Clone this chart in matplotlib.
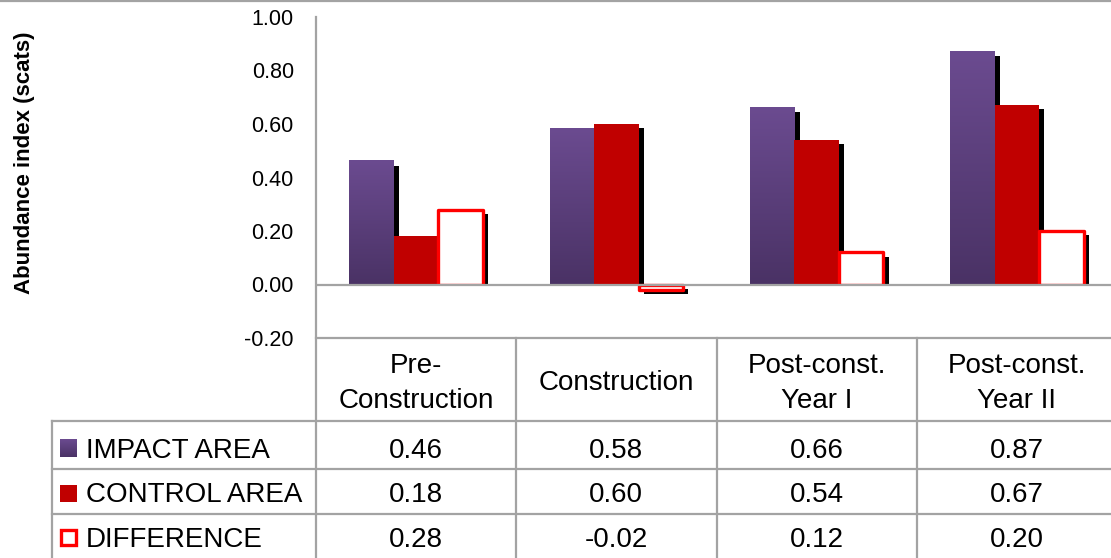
import numpy as np
import matplotlib
matplotlib.use("Agg")
import matplotlib.pyplot as plt
import matplotlib.patheffects as pe
import matplotlib.transforms as mtransforms
from matplotlib.patches import Rectangle
from matplotlib.lines import Line2D
from matplotlib.colors import LinearSegmentedColormap

# ---- data ----
categories = ["Pre-\nConstruction", "Construction", "Post-const.\nYear I", "Post-const.\nYear II"]
series_names = ["IMPACT AREA", "CONTROL AREA", "DIFFERENCE"]
impact = [0.46, 0.58, 0.66, 0.87]
control = [0.18, 0.60, 0.54, 0.67]
difference = [0.28, -0.02, 0.12, 0.20]
y_ticks = [-0.20, 0.00, 0.20, 0.40, 0.60, 0.80, 1.00]
y_label = "Abundance index (scats)"

# ---- styling ----
W, H, DPI = 1111, 558, 100
plt.rcParams['font.family'] = ['Liberation Sans', 'DejaVu Sans']
GRID = '#A3A3A3'
PURPLE_TOP = '#6B4B90'
PURPLE_BOT = '#4A3265'
RED = '#C00000'
OUTLINE = '#FF0000'
purple_cmap = LinearSegmentedColormap.from_list('impact', [PURPLE_BOT, PURPLE_TOP])
TABLE_FS = 20
TICK_FS = 15.5

fig = plt.figure(figsize=(W / DPI, H / DPI), dpi=DPI)


def fx(px):
    return px / W


def fy(py):
    return 1 - py / H


# plot area in pixel units (top-left origin)
ax_left, ax_right = 316, 1117
ax_top, ax_bot = 17, 338
ax = fig.add_axes([fx(ax_left), fy(ax_bot), (ax_right - ax_left) / W, (ax_bot - ax_top) / H])

x = np.arange(len(categories))
w = 1 / 4.5
shadow = [pe.SimplePatchShadow(offset=(3.8, -3.0), shadow_rgbFace='black', alpha=1.0), pe.Normal()]
above_zero = Rectangle((-0.5, 0), 4, 2, transform=ax.transData)

b_imp = ax.bar(x - w, impact, w, color=PURPLE_BOT, zorder=2, path_effects=shadow)
b_ctl = ax.bar(x, control, w, color=RED, zorder=3, path_effects=shadow)
b_dif = ax.bar(x + w, difference, w, facecolor='white', edgecolor=OUTLINE,
               linewidth=2.4, zorder=4, path_effects=shadow, joinstyle='round')
for bars in (b_imp, b_ctl, b_dif):
    for p in bars:
        if p.get_height() >= 0:
            p.set_clip_path(above_zero)

# vertical gradient fill on the impact bars
grad = np.linspace(0, 1, 256).reshape(-1, 1)
for p in b_imp:
    x0, y0 = p.get_x(), p.get_y()
    ax.imshow(grad, cmap=purple_cmap, origin='lower', aspect='auto', interpolation='bilinear',
              extent=(x0, x0 + p.get_width(), y0, y0 + p.get_height()), zorder=2.5)

ax.set_xlim(-0.5, len(categories) - 0.5)
ax.set_ylim(y_ticks[0], y_ticks[-1])
ax.axhline(0, color=GRID, lw=1.6, zorder=6)
for s in ax.spines.values():
    s.set_visible(False)
ax.set_xticks([])
ax.set_yticks(y_ticks)
ax.set_yticklabels([f"{v:.2f}" for v in y_ticks])
ax.tick_params(axis='y', length=0, pad=16, labelsize=TICK_FS)

fig.text(fx(25), fy(163), y_label, rotation=90, ha='center', va='center',
         fontsize=16, fontweight='bold')

# ---- data table ----
bt = mtransforms.blended_transform_factory(ax.transData, fig.transFigure)
edges = np.arange(len(categories) + 1) - 0.5
line_kw = dict(color=GRID, lw=1.6)

fig.add_artist(Line2D([edges[0]] * 2, [fy(ax_top), fy(H)], transform=bt, **line_kw))
for e in edges[1:]:
    fig.add_artist(Line2D([e, e], [fy(ax_bot), fy(H)], transform=bt, **line_kw))
fig.add_artist(Line2D([edges[0], edges[-1]], [fy(ax_bot)] * 2, transform=bt, **line_kw))

table_left = 52
row_tops = [421, 469, 514]
for r in row_tops:
    fig.add_artist(Line2D([fx(table_left), 1], [fy(r)] * 2, transform=fig.transFigure, **line_kw))
fig.add_artist(Line2D([fx(table_left)] * 2, [fy(row_tops[0]), fy(H)], transform=fig.transFigure, **line_kw))
fig.add_artist(Line2D([0, 1], [fy(1)] * 2, transform=fig.transFigure, **line_kw))

# column headers
for xi, cat in zip(x, categories):
    lines = cat.split("\n")
    baselines = [390] if len(lines) == 1 else [373, 408]
    for txt, b in zip(lines, baselines):
        fig.text(xi, fy(b), txt, transform=bt, ha='center', va='baseline', fontsize=TABLE_FS)

# rows: legend key, series name, values
row_baselines = [458, 502, 547]
key_boxes = [(60, 439, 17, 18), (60, 485, 17, 17), (61, 530, 15, 15)]
for name, vals, base, box in zip(series_names, [impact, control, difference], row_baselines, key_boxes):
    fig.text(fx(86), fy(base), name, ha='left', va='baseline', fontsize=TABLE_FS)
    for xi, v in zip(x, vals):
        fig.text(xi, fy(base), f"{v:.2f}", transform=bt, ha='center', va='baseline', fontsize=TABLE_FS)

# legend keys
bx, by, bw, bh = key_boxes[0]
kax = fig.add_axes([fx(bx), fy(by + bh), bw / W, bh / H])
kax.imshow(grad, cmap=purple_cmap, origin='lower', aspect='auto', interpolation='bilinear')
kax.set_axis_off()

bx, by, bw, bh = key_boxes[1]
fig.add_artist(Rectangle((fx(bx), fy(by + bh)), bw / W, bh / H, transform=fig.transFigure,
                         facecolor=RED, edgecolor='none'))
bx, by, bw, bh = key_boxes[2]
fig.add_artist(Rectangle((fx(bx), fy(by + bh)), bw / W, bh / H, transform=fig.transFigure,
                         facecolor='white', edgecolor=OUTLINE, linewidth=2.4))

fig.savefig("out.png", dpi=DPI)
